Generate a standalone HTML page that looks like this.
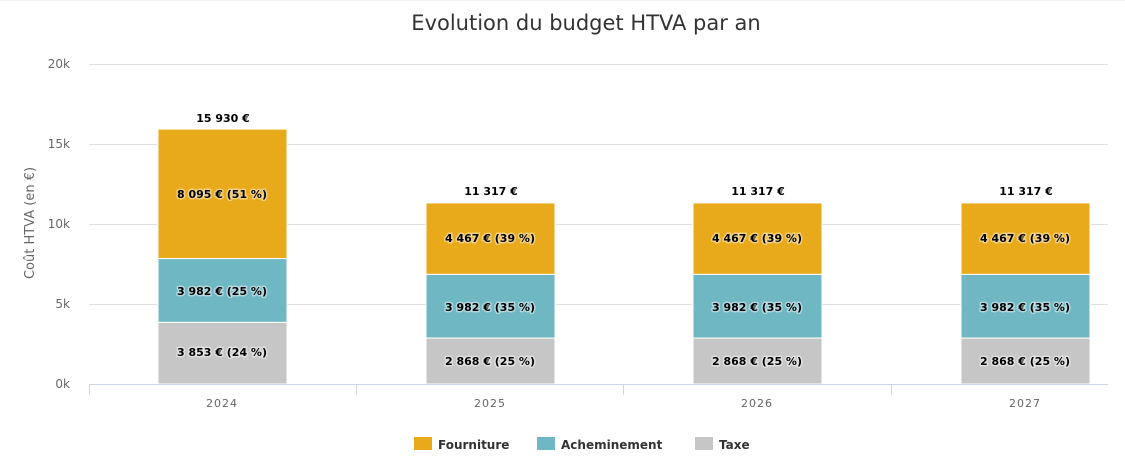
<!DOCTYPE html>
<html><head><meta charset="utf-8"><style>
html,body{margin:0;padding:0;background:#fff;}
svg{display:block;font-family:"DejaVu Sans","Liberation Sans",sans-serif;}
.dl{font-size:11px;font-weight:bold;fill:#000;text-anchor:middle;paint-order:stroke;stroke:#fff;stroke-opacity:0.45;stroke-width:3px;stroke-linejoin:round;}
.tot{font-size:11px;font-weight:bold;fill:#000;text-anchor:middle;}
.yl{font-size:12px;fill:#666;text-anchor:end;}
.xl{font-size:11px;fill:#666;text-anchor:middle;letter-spacing:1px;}
</style></head><body>
<svg width="1125" height="476" viewBox="0 0 1125 476">
<rect x="0" y="0" width="1125" height="476" fill="#fff"/>
<line x1="0" y1="0.5" x2="1125" y2="0.5" stroke="#f2f0ec"/>
<text x="586" y="30" font-size="21" fill="#333" text-anchor="middle">Evolution du budget HTVA par an</text>
<g stroke="#e1e1e1" stroke-width="1">
<line x1="89" y1="64.5" x2="1108" y2="64.5"/>
<line x1="89" y1="144.5" x2="1108" y2="144.5"/>
<line x1="89" y1="224.5" x2="1108" y2="224.5"/>
<line x1="89" y1="304.5" x2="1108" y2="304.5"/>
</g>
<text class="yl" x="70" y="68">20k</text>
<text class="yl" x="70" y="148">15k</text>
<text class="yl" x="70" y="228">10k</text>
<text class="yl" x="70" y="308">5k</text>
<text class="yl" x="70" y="388">0k</text>
<text transform="translate(34,223) rotate(-90)" font-size="13" fill="#666" text-anchor="middle">Coût HTVA (en €)</text>
<g stroke="#fff" stroke-width="1">
<rect x="158" y="129.1" width="129" height="129.5" fill="#e8aa1b"/>
<rect x="158" y="258.6" width="129" height="63.8" fill="#6fb7c3"/>
<rect x="158" y="322.4" width="129" height="61.6" fill="#c6c6c6"/>
<rect x="426" y="202.9" width="129" height="71.5" fill="#e8aa1b"/>
<rect x="426" y="274.4" width="129" height="63.7" fill="#6fb7c3"/>
<rect x="426" y="338.1" width="129" height="45.9" fill="#c6c6c6"/>
<rect x="693" y="202.9" width="129" height="71.5" fill="#e8aa1b"/>
<rect x="693" y="274.4" width="129" height="63.7" fill="#6fb7c3"/>
<rect x="693" y="338.1" width="129" height="45.9" fill="#c6c6c6"/>
<rect x="961" y="202.9" width="129" height="71.5" fill="#e8aa1b"/>
<rect x="961" y="274.4" width="129" height="63.7" fill="#6fb7c3"/>
<rect x="961" y="338.1" width="129" height="45.9" fill="#c6c6c6"/>
</g>
<line x1="89" y1="384.5" x2="1108" y2="384.5" stroke="#ccd6eb"/>
<g stroke="#ccd6eb">
<line x1="89.5" y1="384" x2="89.5" y2="395"/>
<line x1="356.5" y1="384" x2="356.5" y2="395"/>
<line x1="623.5" y1="384" x2="623.5" y2="395"/>
<line x1="891.5" y1="384" x2="891.5" y2="395"/>
</g>
<text class="xl" x="222" y="407">2024</text>
<text class="xl" x="490" y="407">2025</text>
<text class="xl" x="757" y="407">2026</text>
<text class="xl" x="1025" y="407">2027</text>
<text class="tot" x="223" y="122">15 930 €</text>
<text class="tot" x="491" y="195">11 317 €</text>
<text class="tot" x="758" y="195">11 317 €</text>
<text class="tot" x="1026" y="195">11 317 €</text>
<text class="dl" x="222" y="198">8 095 € (51 %)</text>
<text class="dl" x="222" y="295">3 982 € (25 %)</text>
<text class="dl" x="222" y="356">3 853 € (24 %)</text>
<text class="dl" x="490" y="242">4 467 € (39 %)</text>
<text class="dl" x="490" y="311">3 982 € (35 %)</text>
<text class="dl" x="490" y="365">2 868 € (25 %)</text>
<text class="dl" x="757" y="242">4 467 € (39 %)</text>
<text class="dl" x="757" y="311">3 982 € (35 %)</text>
<text class="dl" x="757" y="365">2 868 € (25 %)</text>
<text class="dl" x="1025" y="242">4 467 € (39 %)</text>
<text class="dl" x="1025" y="311">3 982 € (35 %)</text>
<text class="dl" x="1025" y="365">2 868 € (25 %)</text>
<rect x="414" y="437" width="18" height="13" fill="#e8aa1b"/>
<text x="438" y="449" font-size="12" font-weight="bold" fill="#333">Fourniture</text>
<rect x="537" y="437" width="18" height="13" fill="#6fb7c3"/>
<text x="561" y="449" font-size="12" font-weight="bold" fill="#333">Acheminement</text>
<rect x="695" y="437" width="18" height="13" fill="#c6c6c6"/>
<text x="719" y="449" font-size="12" font-weight="bold" fill="#333">Taxe</text>
</svg>
</body></html>
